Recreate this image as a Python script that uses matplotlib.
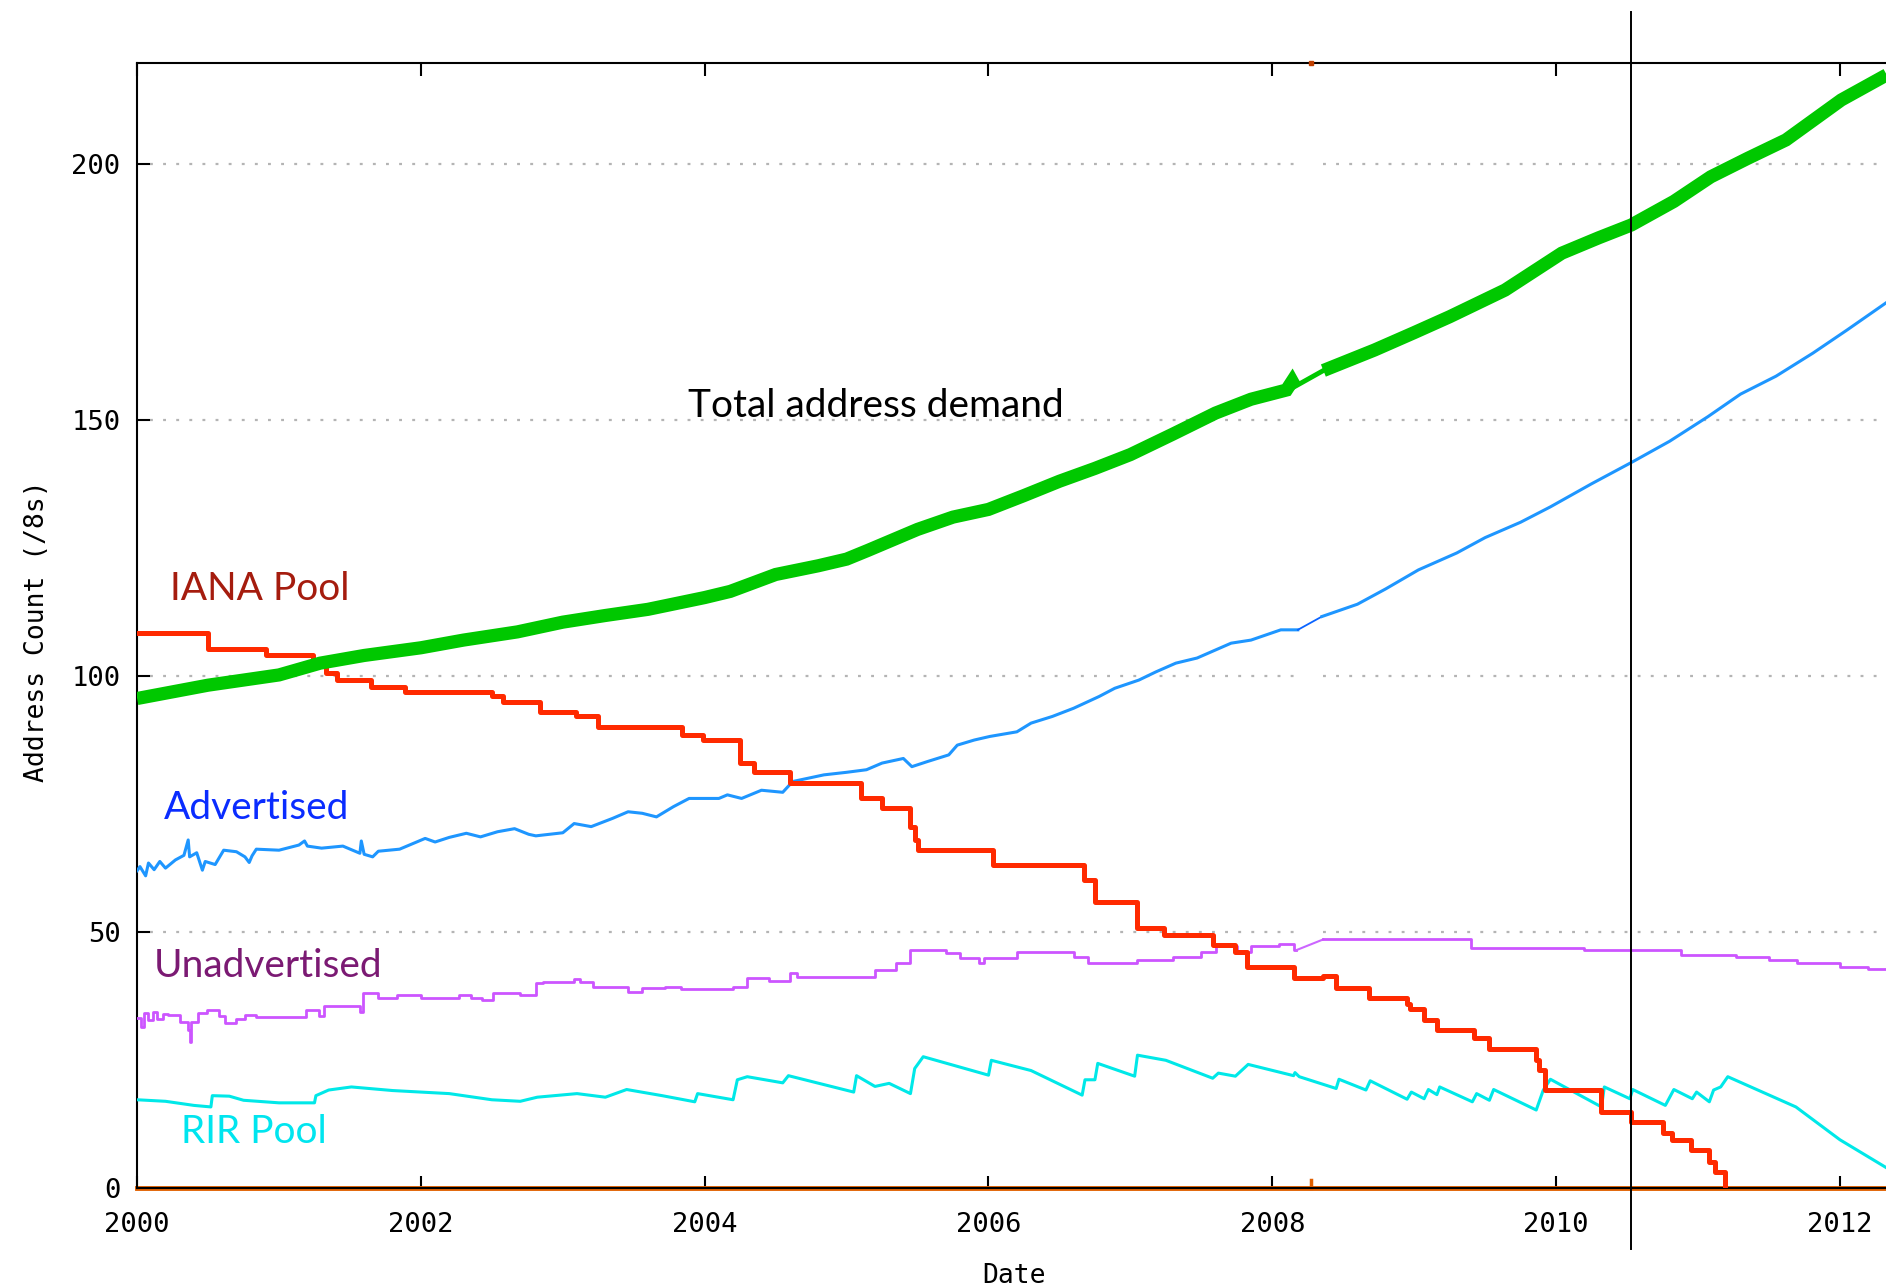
import matplotlib
matplotlib.use("Agg")
import matplotlib.pyplot as plt

# IANA pool (step series)
iana_x = [2000.0, 2000.50, 2000.91, 2001.24, 2001.33, 2001.41, 2001.65, 2001.89, 2002.50, 2002.58,
          2002.84, 2003.09, 2003.25, 2003.84, 2003.99, 2004.25, 2004.35, 2004.60, 2005.10, 2005.25,
          2005.45, 2005.48, 2005.50, 2006.03, 2006.67, 2006.75, 2007.05, 2007.24, 2007.58, 2007.74,
          2007.82, 2008.15, 2008.36, 2008.45, 2008.68, 2008.95, 2008.97, 2009.07, 2009.16, 2009.42,
          2009.53, 2009.86, 2009.88, 2009.92, 2010.32, 2010.53, 2010.75, 2010.82, 2010.95, 2011.08,
          2011.12, 2011.19]
iana_y = [108.3, 105.2, 104.1, 102.1, 100.5, 99.2, 97.9, 96.9, 96.0, 95.0,
          93.0, 92.1, 90.1, 88.5, 87.5, 83.0, 81.3, 79.2, 76.1, 74.2,
          70.5, 68.0, 66.0, 63.1, 60.2, 55.9, 50.8, 49.4, 47.5, 46.2,
          43.3, 41.0, 41.5, 39.2, 37.1, 36.0, 35.0, 32.9, 30.9, 29.3,
          27.2, 25.1, 23.1, 19.2, 15.0, 13.0, 10.9, 9.4, 7.5, 5.2,
          3.3, 0.0]

# total address demand
total_x1 = [2000.0, 2000.5, 2001.0, 2001.29, 2001.6, 2002.0, 2002.3, 2002.68, 2003.0, 2003.3,
            2003.6, 2004.0, 2004.18, 2004.5, 2004.8, 2005.0, 2005.15, 2005.5, 2005.75, 2006.0,
            2006.25, 2006.5, 2006.75, 2007.0, 2007.3, 2007.6, 2007.85, 2008.1, 2008.14, 2008.16]
total_y1 = [95.6, 98.2, 100.2, 102.5, 104.0, 105.5, 107.0, 108.6, 110.5, 111.8,
            113.0, 115.3, 116.5, 119.8, 121.5, 122.8, 124.5, 128.6, 131.0, 132.5,
            135.2, 138.0, 140.5, 143.2, 147.2, 151.3, 154.0, 155.8, 157.5, 156.5]
total_x2 = [2008.36, 2008.72, 2009.0, 2009.25, 2009.64, 2010.04, 2010.3, 2010.53, 2010.83, 2011.09,
            2011.35, 2011.62, 2012.01, 2012.33]
total_y2 = [159.6, 163.6, 167.0, 170.1, 175.3, 182.5, 185.5, 188.0, 192.6, 197.4,
            201.0, 204.6, 212.4, 217.3]

# advertised
adv_x1 = [2000.00, 2000.02, 2000.06, 2000.08, 2000.12, 2000.16, 2000.20, 2000.27, 2000.33, 2000.36,
          2000.37, 2000.42, 2000.46, 2000.48, 2000.55, 2000.61, 2000.70, 2000.76, 2000.79, 2000.81,
          2000.84, 2001.00, 2001.14, 2001.18, 2001.20, 2001.30, 2001.45, 2001.57, 2001.58, 2001.60,
          2001.66, 2001.70, 2001.85, 2002.03, 2002.10, 2002.20, 2002.32, 2002.42, 2002.54, 2002.66,
          2002.76, 2002.81, 2003.00, 2003.08, 2003.20, 2003.35, 2003.46, 2003.56, 2003.66, 2003.78,
          2003.89, 2004.10, 2004.16, 2004.26, 2004.40, 2004.55, 2004.62, 2004.84, 2005.00, 2005.14,
          2005.25, 2005.40, 2005.46, 2005.57, 2005.72, 2005.78, 2005.90, 2006.01, 2006.20, 2006.30,
          2006.45, 2006.60, 2006.78, 2006.89, 2007.06, 2007.18, 2007.32, 2007.47, 2007.71, 2007.85,
          2008.06, 2008.18]
adv_y1 = [62.0, 62.8, 61.0, 63.5, 62.2, 63.8, 62.5, 64.1, 65.0, 68.0,
          64.7, 65.5, 62.1, 63.8, 63.2, 66.0, 65.7, 64.7, 63.6, 64.9,
          66.2, 66.0, 67.0, 67.8, 66.8, 66.4, 66.8, 65.4, 67.8, 65.2,
          64.7, 65.8, 66.2, 68.3, 67.6, 68.5, 69.3, 68.6, 69.6, 70.2,
          69.1, 68.8, 69.4, 71.2, 70.6, 72.2, 73.5, 73.2, 72.5, 74.5,
          76.1, 76.1, 76.8, 76.1, 77.7, 77.3, 79.4, 80.7, 81.2, 81.7,
          83.0, 83.9, 82.3, 83.3, 84.6, 86.5, 87.5, 88.2, 89.1, 90.8,
          92.1, 93.7, 96.0, 97.6, 99.2, 100.8, 102.5, 103.5, 106.4, 107.0,
          109.0, 109.0]
adv_x2 = [2008.35, 2008.6, 2008.8, 2009.03, 2009.3, 2009.5, 2009.75, 2009.96, 2010.25, 2010.54,
          2010.8, 2011.07, 2011.3, 2011.55, 2011.81, 2012.05, 2012.33]
adv_y2 = [111.6, 114.0, 117.0, 120.7, 124.0, 127.0, 130.0, 133.0, 137.5, 141.8,
          145.8, 150.6, 155.0, 158.5, 163.0, 167.5, 172.9]

# unadvertised
unadv_x1 = [2000.00, 2000.03, 2000.05, 2000.08, 2000.11, 2000.14, 2000.18, 2000.22, 2000.30, 2000.36,
            2000.37, 2000.38, 2000.43, 2000.49, 2000.58, 2000.62, 2000.70, 2000.76, 2000.84, 2001.19,
            2001.28, 2001.32, 2001.57, 2001.59, 2001.70, 2001.83, 2002.00, 2002.27, 2002.35, 2002.43,
            2002.51, 2002.70, 2002.81, 2002.86, 2003.08, 2003.12, 2003.21, 2003.46, 2003.56, 2003.72,
            2003.83, 2004.20, 2004.30, 2004.45, 2004.60, 2004.65, 2005.20, 2005.35, 2005.45, 2005.70,
            2005.80, 2005.93, 2005.97, 2006.20, 2006.60, 2006.70, 2007.05, 2007.30, 2007.50, 2007.60,
            2007.75, 2007.85, 2008.05, 2008.15, 2008.17]
unadv_y1 = [33.2, 31.5, 34.2, 32.8, 34.5, 33.0, 34.0, 33.8, 32.5, 31.0,
            28.6, 32.5, 34.2, 34.8, 33.6, 32.2, 33.0, 33.8, 33.5, 34.8,
            33.6, 35.5, 34.5, 38.1, 37.1, 37.7, 37.1, 37.7, 37.2, 36.8,
            38.1, 37.7, 40.0, 40.3, 40.8, 40.3, 39.4, 38.4, 39.2, 39.4,
            38.9, 39.4, 41.0, 40.5, 42.0, 41.3, 42.6, 43.9, 46.6, 45.9,
            44.9, 43.9, 44.9, 46.2, 45.2, 43.9, 44.5, 45.2, 46.2, 47.3,
            46.2, 47.3, 47.7, 46.5, 46.5]
unadv_x2 = [2008.36, 2009.40, 2010.20, 2010.88, 2011.27, 2011.50, 2011.70, 2012.00, 2012.20, 2012.33]
unadv_y2 = [48.6, 47.0, 46.5, 45.5, 45.1, 44.5, 44.0, 43.3, 42.8, 42.0]

# RIR pool
rir_x = [2000.00, 2000.20, 2000.40, 2000.52, 2000.53, 2000.65, 2000.75, 2001.00, 2001.25, 2001.26,
         2001.35, 2001.51, 2001.80, 2002.00, 2002.20, 2002.50, 2002.70, 2002.82, 2003.10, 2003.30,
         2003.45, 2003.70, 2003.93, 2003.95, 2004.20, 2004.23, 2004.30, 2004.55, 2004.59, 2005.05,
         2005.07, 2005.20, 2005.30, 2005.45, 2005.48, 2005.54, 2006.00, 2006.02, 2006.30, 2006.66,
         2006.68, 2006.75, 2006.77, 2007.03, 2007.05, 2007.25, 2007.58, 2007.62, 2007.74, 2007.83,
         2008.15, 2008.16, 2008.19, 2008.45, 2008.47, 2008.66, 2008.69, 2008.95, 2008.98, 2009.07,
         2009.10, 2009.16, 2009.18, 2009.41, 2009.44, 2009.53, 2009.56, 2009.86, 2009.91, 2009.96,
         2010.32, 2010.34, 2010.52, 2010.54, 2010.77, 2010.83, 2010.96, 2010.99, 2011.08, 2011.11,
         2011.16, 2011.21, 2011.69, 2012.00, 2012.33]
rir_y = [17.3, 17.0, 16.2, 15.9, 18.1, 18.0, 17.2, 16.7, 16.7, 18.1,
         19.2, 19.8, 19.1, 18.8, 18.5, 17.3, 17.0, 17.8, 18.5, 17.8,
         19.3, 18.1, 16.9, 18.5, 17.3, 21.2, 21.8, 20.6, 22.0, 18.8,
         22.0, 19.9, 20.5, 18.5, 23.4, 25.7, 22.1, 25.0, 23.0, 18.2,
         21.2, 21.2, 24.4, 21.9, 26.0, 25.0, 21.5, 22.5, 21.9, 24.2,
         22.0, 22.6, 21.8, 19.5, 21.3, 19.2, 21.0, 17.4, 18.8, 17.5,
         19.3, 18.3, 19.8, 16.9, 18.5, 17.2, 19.3, 15.3, 19.2, 21.3,
         15.9, 19.8, 17.5, 19.3, 16.2, 19.3, 17.5, 18.8, 16.9, 19.2,
         19.8, 21.8, 15.9, 9.5, 4.0]

year_ticks = [2000, 2002, 2004, 2006, 2008, 2010, 2012]
count_ticks = [0, 50, 100, 150, 200]
labels = ["Total address demand", "IANA Pool", "Advertised", "Unadvertised", "RIR Pool"]
label_x = [2003.88, 2000.23, 2000.19, 2000.12, 2000.31]
label_y = [152.6, 116.9, 74.2, 43.4, 11.0]
label_colors = ["black", "#a51c0e", "#0a2cff", "#7b1a73", "#00e5ef"]

mono = "DejaVu Sans Mono"

fig = plt.figure(figsize=(18.86, 12.87), dpi=100)
ax = fig.add_axes([0.0727, 0.0766, 0.9273, 0.8748])
ax.set_xlim(2000, 2012.325)
ax.set_ylim(0, 219.7)

# dotted grid with the same gap around 2008.2 as the original
for v in count_ticks[1:]:
    ax.hlines(v, 2000.09, 2008.16, colors="#b4b4b4", lw=1.6, linestyles=(0, (1.3, 4.6)), zorder=1)
    ax.hlines(v, 2008.36, 2012.325, colors="#b4b4b4", lw=1.6, linestyles=(0, (1.3, 4.6)), zorder=1)

ax.plot([2000, 2012.325], [0, 0], color="#e06000", lw=3.5, clip_on=False, zorder=2)
ax.plot([2008.27, 2008.27], [0, 1.6], color="#e06000", lw=2.5, clip_on=False, zorder=2)
ax.plot([2008.27], [219.7], marker="s", ms=3, color="#c04000", clip_on=False, zorder=3)

ax.plot(rir_x, rir_y, color="#00e8e8", lw=2.2, zorder=3)
ax.plot(unadv_x1, unadv_y1, color="#cc55ff", lw=2.0, drawstyle="steps-post", zorder=3)
ax.plot([unadv_x1[-1], unadv_x2[0]], [unadv_y1[-1], unadv_y2[0]], color="#cc66ff", lw=1.5, zorder=3)
ax.plot(unadv_x2, unadv_y2, color="#cc55ff", lw=2.0, drawstyle="steps-post", zorder=3)
ax.plot(adv_x1, adv_y1, color="#1e96ff", lw=2.2, zorder=3)
ax.plot([adv_x1[-1], adv_x2[0]], [adv_y1[-1], adv_y2[0]], color="#0a64ff", lw=1.3, zorder=3)
ax.plot(adv_x2, adv_y2, color="#1e96ff", lw=2.2, zorder=3)
ax.plot(iana_x, iana_y, color="#ff2a00", lw=3.6, drawstyle="steps-post", zorder=4)
ax.plot(total_x1, total_y1, color="#00c800", lw=9.5, solid_capstyle="butt", solid_joinstyle="miter", zorder=5)
ax.plot([total_x1[-1], total_x2[0]], [total_y1[-1], total_y2[0]], color="#00c800", lw=3.5, zorder=5)
ax.plot(total_x2, total_y2, color="#00c800", lw=9.5, solid_capstyle="butt", solid_joinstyle="miter", zorder=5)

# date marker line, reaching past the plot frame
ax.axvline(2010.53, ymin=-0.054, ymax=1.045, color="black", lw=1.4, clip_on=False, zorder=6)

for t, x, y, c in zip(labels, label_x, label_y, label_colors):
    ax.text(x, y, t, color=c, fontsize=28, family="Lato", ha="left", va="center", zorder=7)

for s in ["left", "top", "bottom"]:
    ax.spines[s].set_linewidth(1.5)
ax.spines["right"].set_visible(False)
ax.set_xticks(year_ticks)
ax.set_xticklabels([str(y) for y in year_ticks], family=mono, fontsize=19.5)
ax.set_yticks(count_ticks)
ax.set_yticklabels([str(v) for v in count_ticks], family=mono, fontsize=19.5)
ax.tick_params(axis="x", direction="in", length=9, width=1.5, top=True, pad=17)
ax.tick_params(axis="y", direction="in", length=9, width=1.5, right=False, pad=12)

ax.set_xlabel("Date", family=mono, fontsize=19)
ax.set_ylabel("Address Count (/8s)", family=mono, fontsize=19)
ax.xaxis.set_label_coords(0.5014, -0.066)
ax.yaxis.set_label_coords(-0.050, 0.495)

fig.savefig("out.png", dpi=100)
